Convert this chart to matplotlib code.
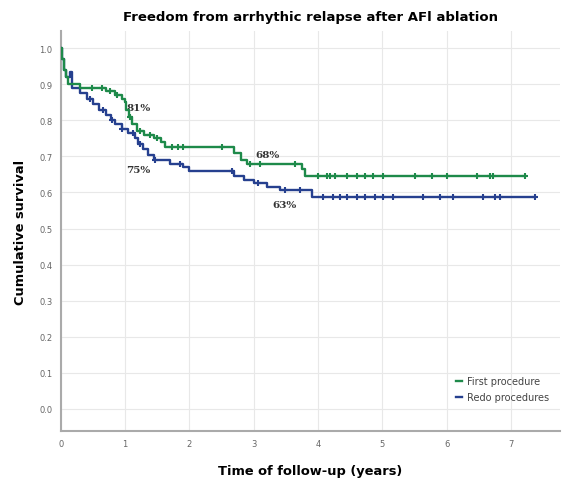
import numpy as np
import matplotlib.pyplot as plt

# Kaplan-Meier step points: (time in years, survival after the step)
first_t = [0, 0.02, 0.05, 0.08, 0.11, 0.3, 0.7, 0.85, 0.95, 1.0, 1.02, 1.06, 1.1, 1.18,
           1.3, 1.45, 1.55, 1.62, 2.7, 2.8, 2.9, 3.75, 3.8, 7.22]
first_s = [1.0, 0.97, 0.94, 0.92, 0.90, 0.89, 0.88, 0.87, 0.86, 0.85, 0.83, 0.81, 0.79, 0.77,
           0.76, 0.75, 0.74, 0.727, 0.71, 0.69, 0.678, 0.665, 0.645, 0.645]

redo_t = [0, 0.02, 0.05, 0.08, 0.15, 0.17, 0.3, 0.4, 0.5, 0.6, 0.7, 0.78, 0.85, 0.95, 1.05,
          1.15, 1.2, 1.28, 1.35, 1.45, 1.7, 1.9, 2.0, 2.7, 2.85, 3.0, 3.2, 3.4, 3.9, 7.37]
redo_s = [1.0, 0.97, 0.94, 0.92, 0.935, 0.89, 0.875, 0.86, 0.845, 0.83, 0.815, 0.80, 0.79, 0.775,
          0.765, 0.75, 0.735, 0.72, 0.705, 0.69, 0.68, 0.67, 0.66, 0.645, 0.635, 0.625, 0.615,
          0.608, 0.587, 0.587]

# censored observations (times)
first_cens = [0.48, 0.64, 0.76, 0.87, 1.07, 1.23, 1.38, 1.49, 1.73, 1.82, 1.9, 2.5, 2.94,
              3.1, 3.64, 4.0, 4.14, 4.18, 4.26, 4.45, 4.6, 4.73, 4.86, 5.01, 5.5, 5.77,
              6.0, 6.47, 6.67, 6.72, 7.22]
redo_cens = [0.45, 0.65, 0.8, 0.95, 1.12, 1.23, 1.46, 1.85, 2.66, 3.06, 3.48, 3.72,
             4.07, 4.23, 4.34, 4.45, 4.6, 4.73, 4.88, 5.01, 5.16, 5.63, 5.9, 6.1, 6.56,
             6.75, 6.83, 7.37]

labels = ["81%", "75%", "68%", "63%"]
label_x = [1.21, 1.2, 3.22, 3.48]
label_y = [0.836, 0.665, 0.706, 0.568]

green = "#1e8a4a"
blue = "#26408f"


def surv_at(times, surv, t):
    idx = np.searchsorted(times, t, side="right") - 1
    return np.array(surv)[idx]


fig = plt.figure(figsize=(5.68, 4.81), dpi=100)
ax = fig.add_axes([0.107, 0.102, 0.879, 0.831])

ax.step(redo_t, redo_s, where="post", color=blue, lw=1.7, label="Redo procedures", zorder=3)
ax.step(first_t, first_s, where="post", color=green, lw=1.7, label="First procedure", zorder=4)

ax.plot(first_cens, surv_at(first_t, first_s, first_cens), ls="none", marker="+",
        color=green, ms=5, mew=1.5, zorder=5)
ax.plot(redo_cens, surv_at(redo_t, redo_s, redo_cens), ls="none", marker="+",
        color=blue, ms=5, mew=1.5, zorder=5)

for lab, x, y in zip(labels, label_x, label_y):
    ax.text(x, y, lab, fontsize=7.5, fontweight="bold", color="#333333",
            ha="center", va="center", family="DejaVu Serif")

ax.set_xlim(0, 7.76)
ax.set_ylim(-0.061, 1.047)
ax.set_xticks(range(0, 8))
ax.set_yticks(np.arange(0, 1.01, 0.1))
ax.set_yticklabels([f"{v:.1f}" for v in np.arange(0, 1.01, 0.1)])
ax.tick_params(length=0, labelsize=6, colors="#666666", pad=6)
ax.grid(True, color="#e8e8e8", lw=0.8)
ax.set_axisbelow(True)
for sp in ["top", "right"]:
    ax.spines[sp].set_visible(False)
for sp in ["left", "bottom"]:
    ax.spines[sp].set_color("#aaaaaa")
    ax.spines[sp].set_linewidth(1.5)

ax.set_xlabel("Time of follow-up (years)", fontsize=9.4, fontweight="bold", labelpad=11)
ax.set_ylabel("Cumulative survival", fontsize=9.4, fontweight="bold", labelpad=9)
ax.set_title("Freedom from arrhythic relapse after AFl ablation", fontsize=9.5,
             fontweight="bold", pad=8)

handles, leg_labels = ax.get_legend_handles_labels()
leg = ax.legend(handles[::-1], leg_labels[::-1], loc="lower right", bbox_to_anchor=(0.995, 0.05),
                frameon=False, fontsize=7, handlelength=0.6, handletextpad=0.5, labelspacing=0.6)
for t in leg.get_texts():
    t.set_color("#444444")

fig.savefig("out.png", dpi=100)
